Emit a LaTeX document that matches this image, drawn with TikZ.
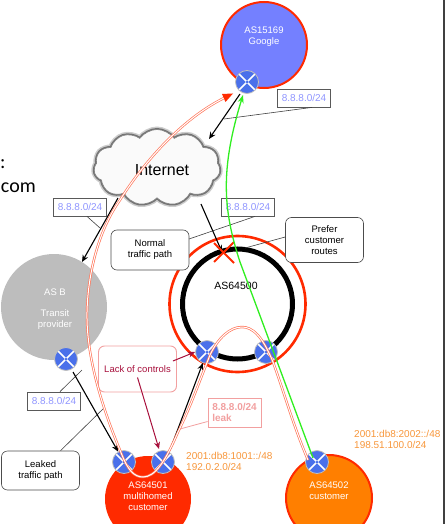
\documentclass[tikz,border=0pt]{standalone}
\usepackage{fontspec}
\setmainfont{Liberation Sans}
\newfontfamily\slidefont{Carlito}
\usetikzlibrary{shapes.symbols,arrows.meta}
\definecolor{googleblue}{HTML}{7480FF}
\definecolor{routerblue}{HTML}{4A70EA}
\definecolor{asred}{HTML}{FF2A00}
\definecolor{asorange}{HTML}{FF7F00}
\definecolor{prefixblue}{HTML}{9096FF}
\definecolor{prefixorange}{HTML}{F7963A}
\definecolor{lackred}{HTML}{A8103C}
\definecolor{leakpink}{HTML}{F2A0A0}
\definecolor{badgreen}{HTML}{30EE20}
\tikzset{
	asnode/.style={circle, inner sep=0, align=center, font=\fontsize{9.5}{11}\selectfont, text=white},
	router/.style={circle, draw=black!25, line width=0.8pt, fill=routerblue, minimum size=23pt, inner sep=0,
		path picture={
			\draw[white, line width=1.6pt]
				(path picture bounding box.center)++(-8,-8) -- ++(16,16)
				(path picture bounding box.center)++(-8,8) -- ++(16,-16);
			\fill[routerblue] (path picture bounding box.center) circle (1.5pt);
		}},
	prefixbox/.style={draw=black!65, line width=0.8pt, fill=white, inner sep=0, minimum width=53pt, minimum height=18pt,
		text=prefixblue, font=\fontsize{10}{11}\selectfont},
	notebox/.style={draw=black!70, rounded corners=6pt, line width=0.6pt, fill=white, inner sep=0, minimum width=78pt, align=center,
		font=\fontsize{9.5}{11}\selectfont},
	orangetext/.style={text=prefixorange, align=left, inner sep=0, font=\fontsize{10}{11}\selectfont},
	trafficpath/.style={-{Stealth[length=7pt,width=6pt]}, line width=1.1pt, black},
	leader/.style={black!75, line width=0.6pt},
	leaked/.style={draw=asred!65, line width=0.7pt, double=white, double distance=1pt},
}
\begin{document}
\begin{tikzpicture}[x=1pt, y=-1pt]
	\useasboundingbox (0,0) rectangle (445,524);
	\clip (0,0) rectangle (445,524);

	% slide text behind the drawing
	\node[anchor=east, inner sep=0, font=\slidefont\fontsize{20}{21}\selectfont] (slidetxt) at (36,188) {com};
	\node[anchor=west, inner sep=0, font=\slidefont\fontsize{20}{21}\selectfont] (slidecolon) at (0,164) {:};
	\fill[black!75] (443,0) rectangle (445,524);

	% systems
	\node[asnode, draw=asred, line width=2pt, fill=googleblue, minimum size=86pt] (google) at (264,45) {};
	\node[asnode] (googletxt) at (264,37) {AS15169\\Google};
	\node[asnode, fill=black!26, minimum size=106pt] (asb) at (54,307) {};
	\node[asnode] (asbtxt) at (55,309.5) {AS B\\[10pt]Transit\\provider};
	\node[asnode, fill=asred, minimum size=86pt] (as1) at (148,499) {};
	\node[asnode] (as1txt) at (148,496) {AS64501\\multihomed\\customer};
	\node[asnode, draw=asred, line width=2pt, fill=asorange, minimum size=86pt] (as2) at (329,498) {};
	\node[asnode] (as2txt) at (329,491) {AS64502\\customer};

	% our network
	\node[circle, draw=asred, line width=2.6pt, minimum size=136pt, inner sep=0] (ringout) at (237.5,304) {};
	\node[circle, draw=black, line width=5pt, minimum size=110pt, inner sep=0] (ring) at (237.5,304) {};
	\node[inner sep=0, font=\fontsize{10.5}{11}\selectfont] (ringtxt) at (236,286) {AS64500};

	% internet
	\node[cloud, cloud puffs=11, cloud puff arc=110, aspect=1.7, draw=black!50, line width=0.6pt, fill=black!2, inner sep=0,
		minimum width=126pt, minimum height=76pt,
		preaction={draw=black!20, line width=6pt},
		preaction={draw=black!55, line width=3pt}] (cloud) at (157,167.5) {};
	\node[inner sep=0, font=\fontsize{16}{17}\selectfont] (cloudtxt) at (162,170) {Internet};

	% routers
	\node[router] (rgoogle) at (247,82) {};
	\node[router] (rasb) at (66,359) {};
	\node[router] (rleft) at (207,352) {};
	\node[router] (rright) at (266,352) {};
	\node[router] (r1a) at (124,462) {};
	\node[router] (r1b) at (163,462) {};
	\node[router] (r2) at (317,462) {};

	% free ends
	\coordinate (cloudtop) at (209,139);
	\coordinate (cloudright) at (201,204);
	\coordinate (cloudleft) at (118,198);
	\coordinate (ringtop) at (222,252);
	\coordinate (asbtop) at (82,262);
	\coordinate (googleline) at (224,119);
	\coordinate (leftline) at (100,228);
	\coordinate (rightline) at (189,239);
	\coordinate (crossmid) at (224,252);
	\coordinate (preferline) at (245,248);
	\coordinate (asbline) at (82,370);
	\coordinate (leakedline) at (105,407);
	\coordinate (leakline) at (180,429);
	\coordinate (lackend) at (159,449);

	% prefixes and notes
	\node[prefixbox] (pgoogle) at (304,98) {8.8.8.0/24};
	\node[prefixbox] (pleft) at (80,207) {8.8.8.0/24};
	\node[prefixbox] (pright) at (248,207) {8.8.8.0/24};
	\node[prefixbox] (pasb) at (54,401) {8.8.8.0/24};
	\node[prefixbox, draw=leakpink, text=leakpink, minimum height=29pt, align=left, font=\fontsize{10}{11}\bfseries\selectfont] (pleak) at (234.5,412.5) {8.8.8.0/24\\leak};
	\node[notebox, minimum height=40pt] (normal) at (150,250) {Normal\\traffic path};
	\node[notebox, minimum height=45pt] (prefer) at (324.5,240) {Prefer\\customer\\routes};
	\node[notebox, minimum height=39pt] (leakednote) at (40.5,470.5) {Leaked\\traffic path};
	\node[notebox, draw=leakpink, line width=0.9pt, text=lackred, minimum height=46pt] (lack) at (137.5,369) {Lack of controls};
	\node[orangetext, anchor=west] (o1) at (186,461) {2001:db8:1001::/48\\192.0.2.0/24};
	\node[orangetext, anchor=west] (o2) at (354,439) {2001:db8:2002::/48\\198.51.100.0/24};

	% leaders
	\draw[leader] (pgoogle.south) ++(8,0) -- (googleline);
	\draw[leader] (pleft.south) ++(7,0) -- (leftline);
	\draw[leader] (pright.south) ++(7,0) -- (rightline);
	\draw[leader] (prefer.west) ++(0,-3) -- (preferline);
	\draw[leader] (pasb.north) ++(6,0) -- (asbline);
	\draw[leader] (leakednote.north) ++(20,0) -- (leakedline);
	\draw[draw=leakpink, line width=0.8pt] (pleak.west) ++(0,9) -- (leakline);

	% normal traffic
	\draw[trafficpath] (rgoogle) ++(-7,12) -- (cloudtop);
	\draw[trafficpath] (cloudleft) -- (asbtop);
	\draw[trafficpath] (cloudright) -- (ringtop);
	\draw[trafficpath] (rasb) ++(7,13) -- (r1a);
	\draw[trafficpath] (r1b) ++(7,-12) -- (rleft);
	\draw[asred, line width=2pt] (crossmid) ++(-10,10) -- ++(20,-20) (crossmid) ++(-10,-9) -- ++(20,20);

	% leaked traffic
	\draw[leaked] (r2) ++(-9,-2) .. controls (293,425) and (285,395) .. (273,362)
		.. controls (262,335) and (252,327) .. (242,327)
		.. controls (230,327) and (218,338) .. (210,355)
		.. controls (198,385) and (190,408) .. (178,432)
		.. controls (165,462) and (155,477) .. (143,477)
		.. controls (134,477) and (128,470) .. (122,455)
		.. controls (105,415) and (86,360) .. (87,312)
		.. controls (88,270) and (100,228) .. (120,200)
		.. controls (142,165) and (180,120) .. (224,98);
	\fill[asred] (233,93.5) -- (222,94) -- (225.5,102) -- cycle;

	% hijacked path
	\draw[-{Stealth[length=8pt,width=6pt]}, badgreen, line width=1.3pt] (r2) ++(-4,-4) -- (240,262)
		.. controls (223,210) and (220,170) .. (243,95);

	% lack of controls
	\draw[-{Stealth[length=7pt,width=6pt]}, lackred, line width=1pt] (lack.east) ++(-4,-8) -- (rleft.west);
	\draw[-{Stealth[length=7pt,width=6pt]}, lackred, line width=1pt] (lack.south) ++(0,-15) -- (lackend);
\end{tikzpicture}
\end{document}
